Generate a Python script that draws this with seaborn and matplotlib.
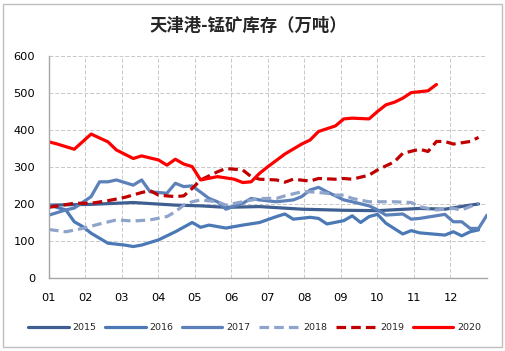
import numpy as np
import pandas as pd
import matplotlib
matplotlib.use("Agg")
import matplotlib.pyplot as plt
import seaborn as sns
from matplotlib.patches import Rectangle
from matplotlib.lines import Line2D

# ---------------- data (week of year, inventory in 10k tonnes) ----------------
weeks_2015 = [0, 5, 10, 15, 18, 21, 25, 30, 35, 39, 44, 47, 50, 51]
vals_2015 = [197, 199, 204, 197, 195, 191, 193, 186, 183, 182, 188, 186, 197, 200]

weeks_2016 = [0, 2, 3, 4, 5, 7, 9, 10, 11, 13, 15, 17, 18, 19, 21, 23, 25, 27, 28, 29,
              31, 32, 33, 35, 36, 37, 38, 39, 40, 42, 43, 44, 47, 48, 49, 50, 51]
vals_2016 = [197, 184, 152, 139, 121, 94, 89, 85, 89, 103, 125, 150, 137, 143, 135, 143, 150, 166, 173, 159,
             164, 161, 146, 155, 168, 150, 166, 172, 148, 119, 128, 122, 116, 125, 114, 125, 130]

weeks_2017 = [0, 2, 3, 5, 6, 7, 8, 10, 11, 12, 14, 15, 16, 17, 19, 20, 21, 23, 24, 25,
              27, 29, 30, 31, 32, 33, 35, 36, 38, 39, 40, 42, 43, 44, 47, 48, 49, 50, 51, 52]
vals_2017 = [170, 184, 189, 220, 260, 260, 265, 251, 265, 233, 229, 256, 247, 249, 215, 206, 186, 202, 215, 211,
             206, 211, 220, 238, 245, 233, 211, 206, 195, 184, 170, 173, 159, 161, 172, 152, 152, 134, 134, 170]

weeks_2018 = [0, 2, 4, 6, 8, 10, 12, 14, 15, 16, 17, 18, 20, 21, 23, 25, 27, 28, 30, 31,
              33, 34, 35, 36, 38, 39, 41, 43, 44, 45, 46, 48, 49, 50, 51]
vals_2018 = [131, 125, 134, 146, 157, 154, 157, 166, 179, 197, 206, 211, 206, 197, 206, 215, 215, 222, 233, 233,
             229, 224, 224, 215, 206, 206, 206, 204, 193, 188, 184, 188, 184, 193, 202]

weeks_2019 = [0, 3, 5, 7, 9, 11, 12, 13, 15, 16, 17, 18, 20, 21, 23, 24, 25, 27, 28, 29,
              31, 32, 34, 35, 36, 38, 39, 41, 42, 44, 45, 46, 47, 48, 50, 51]
vals_2019 = [191, 202, 202, 209, 218, 231, 236, 224, 220, 222, 242, 265, 287, 296, 292, 274, 267, 265, 259, 267,
             262, 269, 267, 269, 267, 278, 292, 314, 337, 348, 342, 369, 369, 362, 369, 380]

weeks_2020 = [0, 1, 3, 5, 7, 8, 10, 11, 13, 14, 15, 16, 17, 18, 20, 22, 23, 24, 25, 26,
              28, 30, 31, 32, 34, 35, 36, 38, 39, 40, 41, 42, 43, 45, 46]
vals_2020 = [368, 362, 348, 389, 368, 346, 323, 330, 319, 305, 321, 308, 301, 265, 274, 267, 258, 260, 283, 301,
             335, 362, 373, 396, 411, 430, 432, 430, 450, 468, 475, 486, 501, 506, 523]

years = ["2015", "2016", "2017", "2018", "2019", "2020"]
month_labels = ["01", "02", "03", "04", "05", "06", "07", "08", "09", "10", "11", "12"]
title = "天津港-锰矿库存（万吨）"

series = {
    "2015": (weeks_2015, vals_2015),
    "2016": (weeks_2016, vals_2016),
    "2017": (weeks_2017, vals_2017),
    "2018": (weeks_2018, vals_2018),
    "2019": (weeks_2019, vals_2019),
    "2020": (weeks_2020, vals_2020),
}
frames = []
for y in years:
    w, v = series[y]
    frames.append(pd.DataFrame({"week": w, "value": v, "year": y}))
df = pd.concat(frames, ignore_index=True)

# ---------------- style ----------------
sns.set_theme(style="white")
plt.rcParams["font.family"] = ["DejaVu Sans"]

colors = {
    "2015": "#3F5F92",
    "2016": "#4A79B6",
    "2017": "#5B80BA",
    "2018": "#8FA4CA",
    "2019": "#C00000",
    "2020": "#FF0000",
}
dash_pat = {
    "2015": "",
    "2016": "",
    "2017": "",
    "2018": (3.0, 1.6),
    "2019": (3.0, 1.6),
    "2020": "",
}

fig = plt.figure(figsize=(5.06, 3.51), dpi=100)
ax = fig.add_axes([49 / 506, 1 - 278 / 351, (487 - 49) / 506, (278 - 56) / 351])

sns.lineplot(data=df, x="week", y="value", hue="year", style="year",
             hue_order=years, style_order=years, palette=colors, dashes=dash_pat,
             linewidth=2.3, errorbar=None, sort=True, legend=False, ax=ax)

for ln in ax.lines:
    ln.set_solid_capstyle("round")
    ln.set_solid_joinstyle("round")

ax.set_xlim(0, 52)
ax.set_ylim(0, 600)
month_pos = [i * 52 / 12 for i in range(13)]
ax.set_xticks(month_pos)
ax.set_xticklabels(month_labels + [""])
ax.set_yticks(range(0, 601, 100))
ax.set_xlabel("")
ax.set_ylabel("")

ax.grid(True, color="#C8C8C8", linestyle=(0, (4, 2)), linewidth=0.7)
ax.set_axisbelow(True)
for s in ["top", "right"]:
    ax.spines[s].set_visible(False)
for s in ["left", "bottom"]:
    ax.spines[s].set_color("#A6A6A6")
    ax.spines[s].set_linewidth(1.0)

ax.tick_params(axis="x", length=0, pad=11, labelsize=8.2, colors="#000000")
ax.tick_params(axis="y", length=0, pad=10, labelsize=8.2, colors="#000000")

# title
fig.text(0.49, 1 - 26 / 351, title, ha="center", va="center", fontsize=12.5,
         fontweight="bold", family=["Noto Sans CJK SC", "DejaVu Sans"])

# legend
handles = [Line2D([0], [0], color=colors[y], linewidth=2.3,
                  linestyle="-" if dash_pat[y] == "" else (0, dash_pat[y]))
           for y in years]
fig.legend(handles, years, loc="center", bbox_to_anchor=(0.503, 1 - 328 / 351),
           ncol=6, frameon=False, fontsize=6.8, handlelength=4.3,
           handletextpad=0.4, columnspacing=0.9, borderaxespad=0, borderpad=0)

# outer chart border
fig.patches.append(Rectangle((3 / 506, 4 / 351), 499 / 506, 343 / 351,
                             transform=fig.transFigure, fill=False,
                             edgecolor="#BFBFBF", linewidth=1.0))

fig.savefig("out.png", dpi=100)
